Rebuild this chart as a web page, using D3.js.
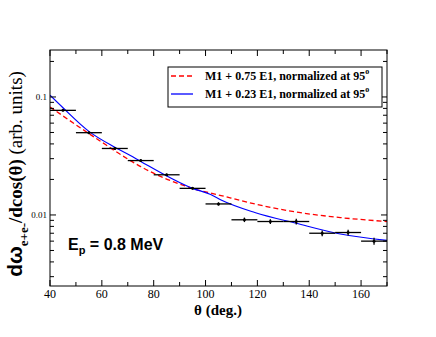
<!DOCTYPE html>
<html>
<head>
<meta charset="utf-8">
<style>
  body { margin: 0; background: #fff; }
  svg { display: block; }
  .tick-label { font-family: 'Liberation Serif', serif; fill: #000; }
</style>
</head>
<body>
<svg width="436" height="337"></svg>
<script src="https://d3js.org/d3.v7.min.js"></script>
<script>
// data points (theta in deg, value, error)
let theta = [45, 55, 65, 75, 85, 95, 105, 115, 125, 135, 145, 155, 165];
let yield_ = [0.077, 0.0498, 0.0366, 0.0289, 0.0219, 0.0168, 0.0124, 0.0091, 0.0088, 0.0088, 0.0070, 0.0071, 0.0060];
let yErr = [0.0015, 0.0012, 0.0009, 0.0007, 0.0005, 0.0004, 0.0004, 0.0004, 0.0004, 0.0005, 0.0004, 0.0004, 0.0004];
let thetaHalfWidth = 5;

// theory curves
let blueTheta = [40, 45, 55, 65, 71, 75, 95, 102, 106, 119, 135, 152, 170];
let blueVals = [0.1034, 0.081, 0.0511, 0.0375, 0.0319, 0.0284, 0.0168, 0.0149, 0.0134, 0.0105, 0.0085, 0.0069, 0.0061];
let redTheta = [40, 59, 71, 75, 95, 106, 119, 136, 152, 170];
let redVals = [0.0822, 0.0428, 0.0289, 0.0257, 0.0168, 0.0146, 0.0124, 0.0105, 0.0095, 0.0088];

let xTicks = [40, 60, 80, 100, 120, 140, 160];
let yTickLabels = ["0.01", "0.1"];

let svg = d3.select("svg");
let pLeft = 50, pRight = 387, pTop = 50, pBottom = 286;

let x = d3.scaleLinear().domain([40, 170]).range([pLeft, pRight]);
let y = d3.scaleLog().domain([0.0025, 0.25]).range([pBottom, pTop]);

// curves
let line = d3.line().x(d => x(d[0])).y(d => y(d[1])).curve(d3.curveMonotoneX);

svg.append("defs").append("clipPath").attr("id", "clip")
  .append("rect").attr("x", pLeft).attr("y", pTop).attr("width", pRight - pLeft).attr("height", pBottom - pTop);

let plot = svg.append("g").attr("clip-path", "url(#clip)");

plot.append("path")
  .attr("d", line(redTheta.map((t, i) => [t, redVals[i]])))
  .attr("fill", "none").attr("stroke", "#ff0000").attr("stroke-width", 1.3)
  .attr("stroke-dasharray", "5,3");

plot.append("path")
  .attr("d", line(blueTheta.map((t, i) => [t, blueVals[i]])))
  .attr("fill", "none").attr("stroke", "#0000ff").attr("stroke-width", 1.2);

// data with error bars
let pts = svg.append("g");
theta.forEach((t, i) => {
  pts.append("line")
    .attr("x1", x(t - thetaHalfWidth)).attr("x2", x(t + thetaHalfWidth))
    .attr("y1", y(yield_[i])).attr("y2", y(yield_[i]))
    .attr("stroke", "#000").attr("stroke-width", 1.3);
  pts.append("line")
    .attr("x1", x(t)).attr("x2", x(t))
    .attr("y1", y(yield_[i] - yErr[i])).attr("y2", y(yield_[i] + yErr[i]))
    .attr("stroke", "#000").attr("stroke-width", 1.3);
  pts.append("circle")
    .attr("cx", x(t)).attr("cy", y(yield_[i])).attr("r", 1.5).attr("fill", "#000");
});

// frame
svg.append("rect")
  .attr("x", pLeft).attr("y", pTop).attr("width", pRight - pLeft).attr("height", pBottom - pTop)
  .attr("fill", "none").attr("stroke", "#000").attr("stroke-width", 1);

// x ticks (inward, mirrored on top)
let ticksG = svg.append("g").attr("stroke", "#000").attr("stroke-width", 1);
d3.range(40, 171, 10).forEach(v => {
  let len = (v % 20 === 0) ? 6 : 4;
  ticksG.append("line").attr("x1", x(v)).attr("x2", x(v)).attr("y1", pBottom).attr("y2", pBottom - len);
  ticksG.append("line").attr("x1", x(v)).attr("x2", x(v)).attr("y1", pTop).attr("y2", pTop + len);
});
svg.selectAll(".xlab").data(xTicks).join("text")
  .attr("class", "tick-label")
  .attr("x", d => x(d)).attr("y", 298)
  .attr("text-anchor", "middle").attr("font-size", 12)
  .text(d => d);

// y ticks (log)
let yMajor = [0.01, 0.1];
let yMinor = [];
[0.001, 0.01, 0.1].forEach(dec => {
  for (let k = 2; k <= 9; k++) {
    let v = dec * k;
    if (v >= 0.0025 && v <= 0.25) yMinor.push(v);
  }
});
yMajor.forEach(v => {
  ticksG.append("line").attr("x1", pLeft).attr("x2", pLeft + 6).attr("y1", y(v)).attr("y2", y(v));
  ticksG.append("line").attr("x1", pRight).attr("x2", pRight - 6).attr("y1", y(v)).attr("y2", y(v));
});
yMinor.forEach(v => {
  ticksG.append("line").attr("x1", pLeft).attr("x2", pLeft + 4).attr("y1", y(v)).attr("y2", y(v));
  ticksG.append("line").attr("x1", pRight).attr("x2", pRight - 4).attr("y1", y(v)).attr("y2", y(v));
});
svg.selectAll(".ylab").data(yMajor).join("text")
  .attr("class", "tick-label")
  .attr("x", 47).attr("y", d => y(d) + 3)
  .attr("text-anchor", "end").attr("font-size", 9)
  .text((d, i) => yTickLabels[i]);

// axis titles
svg.append("text")
  .attr("x", 218).attr("y", 315)
  .attr("text-anchor", "middle")
  .attr("font-family", "'Liberation Serif', serif").attr("font-weight", "bold").attr("font-size", 15)
  .text("θ (deg.)");

let yt = svg.append("text")
  .attr("transform", "translate(22,174) rotate(-90)")
  .attr("text-anchor", "middle");
yt.append("tspan").attr("font-family", "'Liberation Sans', Arial, sans-serif").attr("font-weight", "bold")
  .attr("font-size", 21).text("dω");
yt.append("tspan").attr("font-family", "'Liberation Serif', serif").attr("font-weight", "bold")
  .attr("font-size", 13).attr("dy", 6).text("e+e-");
yt.append("tspan").attr("font-family", "'Liberation Serif', serif").attr("font-weight", "bold")
  .attr("font-size", 19).attr("dy", -6).text("/dcos(θ)");
yt.append("tspan").attr("font-family", "'Liberation Serif', serif")
  .attr("font-size", 19).text(" (arb. units)");

// annotation
let ep = svg.append("text").attr("x", 68).attr("y", 250)
  .attr("font-family", "'Liberation Sans', Arial, sans-serif").attr("font-weight", "bold").attr("font-size", 16);
ep.append("tspan").text("E");
ep.append("tspan").attr("font-size", 11).attr("dy", 4).text("p");
ep.append("tspan").attr("dy", -4).text(" = 0.8 MeV");

// legend
let lg = svg.append("g");
lg.append("rect").attr("x", 168).attr("y", 67).attr("width", 214).attr("height", 40)
  .attr("fill", "#fff").attr("stroke", "#000").attr("stroke-width", 1);
let legendItems = [
  { label: "M1 + 0.75 E1, normalized at 95", color: "#ff0000", dash: "5,3", yy: 76 },
  { label: "M1 + 0.23 E1, normalized at 95", color: "#0000ff", dash: null, yy: 94 }
];
legendItems.forEach(it => {
  lg.append("line").attr("x1", 171).attr("x2", 193).attr("y1", it.yy).attr("y2", it.yy)
    .attr("stroke", it.color).attr("stroke-width", 1.3)
    .attr("stroke-dasharray", it.dash);
  let t = lg.append("text").attr("x", 205).attr("y", it.yy + 4)
    .attr("font-family", "'Liberation Serif', serif").attr("font-weight", "bold").attr("font-size", 12);
  t.append("tspan").text(it.label);
  t.append("tspan").attr("font-size", 8).attr("dy", -6).text("o");
});
</script>
</body>
</html>
